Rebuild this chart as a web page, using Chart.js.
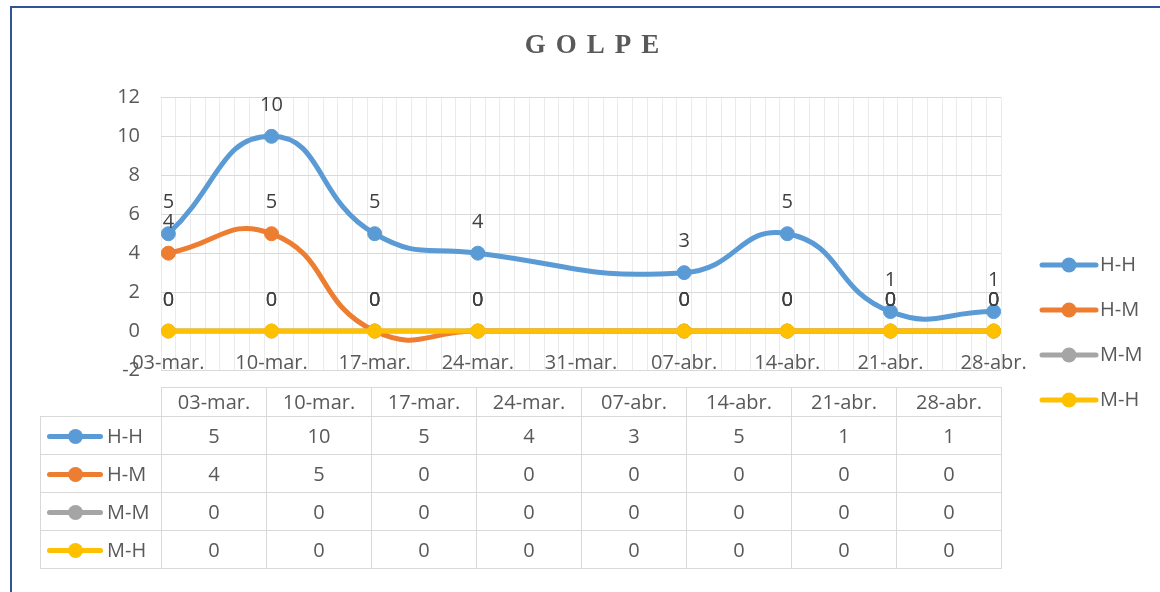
<!DOCTYPE html>
<html>
<head>
<meta charset="utf-8">
<script src="https://cdn.jsdelivr.net/npm/chart.js@4.4.1/dist/chart.umd.min.js"></script>
<style>
  body { margin: 0; background: #fff; }
  #wrap { position: relative; width: 1160px; height: 592px; overflow: hidden; }
  #frame { position: absolute; left: 10px; top: 6px; width: 1200px; height: 700px;
           border-left: 2px solid #2f5597; border-top: 2px solid #2f5597; }
  #chart { position: absolute; left: 0; top: 0; }
  #tbl { position: absolute; left: 40px; top: 387px; border-collapse: collapse; table-layout: fixed; }
  #tbl td { border: 1px solid #d9d9d9; padding: 0; text-align: center; color: #595959;
            font: 20px 'Open Sans', sans-serif; line-height: 1; height: 37px; }
  #tbl tr.hd td { height: 28px; }
  #tbl td.blank { border-top: none; border-left: none; }
  #tbl td.name { text-align: left; padding-left: 6px; white-space: nowrap; }
  .key { display: inline-block; position: relative; width: 56px; height: 5px; border-radius: 3px;
         background: var(--c); vertical-align: middle; margin-right: 4px; top: -1px; }
  .key::after { content: ''; position: absolute; left: 20.5px; top: -5px; width: 15px; height: 15px;
                border-radius: 50%; background: var(--c); }
</style>
</head>
<body>
<div id="wrap">
  <div id="frame"></div>
  <canvas id="chart" width="1160" height="592"></canvas>
  <table id="tbl">
    <colgroup><col style="width:121px"><col style="width:105px"><col style="width:105px"><col style="width:105px"><col style="width:105px"><col style="width:105px"><col style="width:105px"><col style="width:105px"><col style="width:105px"></colgroup>
    <tbody id="tbody"></tbody>
  </table>
</div>
<script>
// dates on the axis (weekly) and the dates that have data
var tickLabels = ['03-mar.', '10-mar.', '17-mar.', '24-mar.', '31-mar.', '07-abr.', '14-abr.', '21-abr.', '28-abr.'];
var categories = ['03-mar.', '10-mar.', '17-mar.', '24-mar.', '07-abr.', '14-abr.', '21-abr.', '28-abr.'];
var dayOffsets = [0, 7, 14, 21, 35, 42, 49, 56];   // days after 03-mar.

var seriesNames = ['H-H', 'H-M', 'M-M', 'M-H'];
var hh = [5, 10, 5, 4, 3, 5, 1, 1];
var hm = [4, 5, 0, 0, 0, 0, 0, 0];
var mm = [0, 0, 0, 0, 0, 0, 0, 0];
var mh = [0, 0, 0, 0, 0, 0, 0, 0];
var yTicks = [-2, 0, 2, 4, 6, 8, 10, 12];

var colors = ['#5b9bd5', '#ed7d31', '#a5a5a5', '#ffc000'];
var FONT = "'Open Sans', sans-serif";

function points(vals) {
  return vals.map(function(v, i) { return { x: dayOffsets[i], y: v }; });
}

var allSeries = [hh, hm, mm, mh];
var datasets = allSeries.map(function(vals, i) {
  return {
    label: seriesNames[i],
    data: points(vals),
    borderColor: colors[i],
    backgroundColor: colors[i],
    pointBackgroundColor: colors[i],
    pointBorderColor: colors[i],
    borderWidth: 5,
    pointRadius: 7,
    pointBorderWidth: 1,
    tension: 0.5,
    order: 4 - i   // later series drawn on top, like Excel
  };
});

// value labels above each point
var valueLabels = {
  id: 'valueLabels',
  afterDatasetsDraw: function(chart) {
    var ctx = chart.ctx;
    ctx.save();
    ctx.font = '20px ' + FONT;
    ctx.fillStyle = '#404040';
    ctx.textAlign = 'center';
    ctx.textBaseline = 'middle';
    chart.data.datasets.forEach(function(ds, i) {
      var meta = chart.getDatasetMeta(i);
      meta.data.forEach(function(el, j) {
        ctx.fillText(String(ds.data[j].y), el.x, el.y - 31);
      });
    });
    ctx.restore();
  }
};

// legend on the right: line + marker + name
var sideLegend = {
  id: 'sideLegend',
  afterDraw: function(chart) {
    var ctx = chart.ctx;
    ctx.save();
    chart.data.datasets.forEach(function(ds, i) {
      var y = 265 + i * 45;
      ctx.strokeStyle = ds.borderColor;
      ctx.lineWidth = 5;
      ctx.lineCap = 'round';
      ctx.beginPath();
      ctx.moveTo(1042, y);
      ctx.lineTo(1096, y);
      ctx.stroke();
      ctx.fillStyle = ds.borderColor;
      ctx.beginPath();
      ctx.arc(1069, y, 7.5, 0, Math.PI * 2);
      ctx.fill();
      ctx.fillStyle = '#595959';
      ctx.font = '20px ' + FONT;
      ctx.textBaseline = 'middle';
      ctx.fillText(ds.label, 1100, y);
    });
    ctx.restore();
  }
};

// spaced-out title letters
var spacedTitle = {
  id: 'spacedTitle',
  beforeDraw: function(chart) {
    var tb = chart.titleBlock;
    if (tb && !tb._spaced) {
      var orig = tb.draw;
      tb.draw = function() {
        this.ctx.save();
        this.ctx.letterSpacing = '10px';
        orig.apply(this, arguments);
        this.ctx.restore();
      };
      tb._spaced = true;
    }
  }
};

var ctx = document.getElementById('chart').getContext('2d');
var golpe = new Chart(ctx, {
  type: 'line',
  data: { datasets: datasets },
  options: {
    responsive: false,
    animation: false,
    layout: { padding: { left: 34, right: 0, top: 0, bottom: 222 } },
    plugins: {
      legend: { display: false },
      tooltip: { enabled: false },
      title: {
        display: true,
        text: 'GOLPE',
        color: '#595959',
        font: { family: "'Liberation Serif', 'Times New Roman', serif", size: 27, weight: 'bold' },
        padding: { top: 30, bottom: 35 }
      }
    },
    scales: {
      x: {
        type: 'linear',
        position: { y: 0 },
        min: -0.5,
        max: 56.5,
        bounds: 'data',
        grid: { display: false, drawTicks: false },
        border: { display: false },
        afterBuildTicks: function(scale) {
          scale.ticks = tickLabels.map(function(l, i) { return { value: i * 7 }; });
        },
        ticks: {
          autoSkip: false,
          maxRotation: 0,
          padding: 20,
          color: '#595959',
          font: { family: FONT, size: 20 },
          callback: function(v) { return tickLabels[Math.round(v / 7)]; }
        }
      },
      dayGrid: {
        type: 'linear',
        axis: 'x',
        position: { y: 0 },
        min: -0.5,
        max: 56.5,
        bounds: 'data',
        grid: { color: '#ebebeb', lineWidth: 1, drawTicks: false },
        border: { display: false },
        afterBuildTicks: function(scale) {
          var t = [];
          for (var d = scale.min; d <= scale.max + 0.001; d++) t.push({ value: d });
          scale.ticks = t;
        },
        ticks: { display: false, autoSkip: false }
      },
      y: {
        min: -2,
        max: 12,
        afterBuildTicks: function(scale) {
          scale.ticks = yTicks.map(function(v) { return { value: v }; });
        },
        afterFit: function(scale) { scale.width = 127; },
        grid: { color: '#d9d9d9', lineWidth: 1, drawTicks: false },
        border: { display: false },
        ticks: { padding: 21, color: '#595959', font: { family: FONT, size: 20 } }
      },
      legendSpace: {
        type: 'linear',
        axis: 'y',
        position: 'right',
        grid: { display: false, drawTicks: false },
        border: { display: false },
        ticks: { display: false },
        afterFit: function(scale) { scale.width = 159; }
      }
    }
  },
  plugins: [valueLabels, sideLegend, spacedTitle]
});

// data table under the chart
var rows = '<tr class="hd"><td class="blank"></td>' +
  categories.map(function(c) { return '<td>' + c + '</td>'; }).join('') + '</tr>';
allSeries.forEach(function(vals, i) {
  rows += '<tr><td class="name"><span class="key" style="--c:' + colors[i] + '"></span>' + seriesNames[i] + '</td>' +
    vals.map(function(v) { return '<td>' + v + '</td>'; }).join('') + '</tr>';
});
document.getElementById('tbody').innerHTML = rows;
</script>
</body>
</html>
